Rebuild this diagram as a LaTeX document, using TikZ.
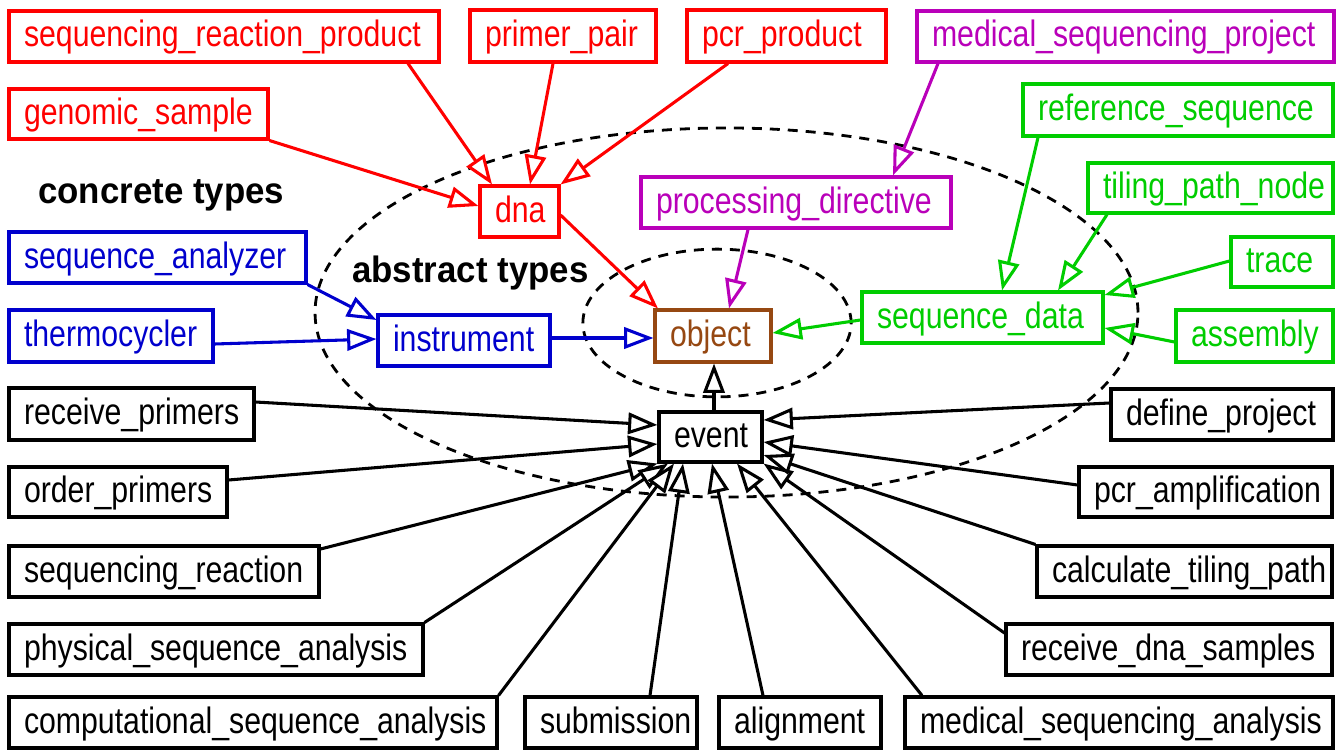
\documentclass[tikz,border=0pt]{standalone}
\usepackage{fontspec}
\setmainfont{Liberation Sans}[FakeStretch=0.825]
\newfontfamily\labfont{Liberation Sans}[FakeStretch=0.95]
\usetikzlibrary{arrows.meta}
\definecolor{cred}{RGB}{255,0,0}
\definecolor{cgreen}{RGB}{0,205,0}
\definecolor{cblue}{RGB}{0,0,205}
\definecolor{cmag}{RGB}{185,0,185}
\definecolor{cbrown}{RGB}{150,72,18}
\tikzset{
  box/.style={draw, line width=2.3pt, fill=white, inner xsep=11.25pt, inner ysep=0pt,
    align=left, text height=21.75pt, text depth=6pt,
    font=\fontsize{27.5pt}{30pt}\selectfont},
  conn/.style={line width=2.3pt, -{Triangle[length=22pt,width=16pt,fill=white]}},
  region/.style={draw=black, line width=2.1pt, dash pattern=on 7.5pt off 6pt},
  lab/.style={font=\labfont\bfseries\fontsize{27.5pt}{30pt}\selectfont, anchor=base west, inner sep=0pt}
}
\newcommand\bx[7]{\node[box,draw=#6,text=#6,text width={(#4-#2-30)*0.75pt},minimum height={(#5-#3)*0.75pt}] (#1) at ({(#2+#4)/2},{(#3+#5)/2}) {#7};}
\begin{document}
\begin{tikzpicture}[x=0.75pt,y=-0.75pt]
\useasboundingbox (0,0) rectangle (1337,749);
% regions
\draw[region] (726.5,312.5) ellipse [x radius=308.6pt, y radius=138.4pt];
\draw[region] (717,323) ellipse [x radius=100.6pt, y radius=55.4pt];
\node[lab] (ct) at (38,203) {concrete types};
\node[lab] (at) at (352,282) {abstract types};
% nodes
\bx{srp}{9}{11}{439}{62}{cred}{sequencing\_reaction\_product}
\bx{pp}{470}{10}{656}{62}{cred}{primer\_pair}
\bx{pcrp}{687}{10}{886}{62}{cred}{pcr\_product}
\bx{msp}{917}{11}{1334}{62}{cmag}{medical\_sequencing\_project}
\bx{gs}{9}{89}{268}{139}{cred}{genomic\_sample}
\bx{rs}{1023}{84}{1333}{136}{cgreen}{reference\_sequence}
\bx{tpn}{1088}{163}{1333}{213}{cgreen}{tiling\_path\_node}
\bx{dna}{480}{186}{559}{237}{cred}{dna}
\bx{pd}{641}{177}{951}{228}{cmag}{processing\_directive}
\bx{sa}{9}{232}{306}{283}{cblue}{sequence\_analyzer}
\bx{tr}{1231}{237}{1333}{287}{cgreen}{trace}
\bx{inst}{378}{315}{550}{366}{cblue}{instrument}
\bx{obj}{655}{310}{771}{362}{cbrown}{object}
\bx{sd}{862}{292}{1103}{343}{cgreen}{sequence\_data}
\bx{tc}{9}{310}{213}{362}{cblue}{thermocycler}
\bx{asm}{1176}{310}{1333}{362}{cgreen}{assembly}
\bx{rp}{9}{388}{254}{440}{black}{receive\_primers}
\bx{dp}{1111}{389}{1333}{440}{black}{define\_project}
\bx{ev}{659}{412}{762}{462}{black}{event}
\bx{op}{9}{467}{227}{517}{black}{order\_primers}
\bx{pcra}{1079}{467}{1332}{517}{black}{pcr\_amplification}
\bx{sr}{9}{546}{319}{597}{black}{sequencing\_reaction}
\bx{ctp}{1037}{546}{1332}{597}{black}{calculate\_tiling\_path}
\bx{psa}{9}{624}{423}{675}{black}{physical\_sequence\_analysis}
\bx{rds}{1006}{624}{1332}{675}{black}{receive\_dna\_samples}
\bx{csa}{9}{697}{497}{748}{black}{computational\_sequence\_analysis}
\bx{sub}{525}{697}{697}{748}{black}{submission}
\bx{aln}{719}{697}{881}{748}{black}{alignment}
\bx{msa}{905}{697}{1333}{748}{black}{medical\_sequencing\_analysis}
% red edges
\begin{scope}[cred]
\draw[conn] (srp.south -| 408,0) -- (dna.north -| 492,0);
\draw[conn] (pp.south -| 553,0) -- (dna.north -| 530,0);
\draw[conn] (pcrp.south -| 728,0) -- (dna.north east);
\draw[conn] (gs.south east) -- (dna.west |- 0,206);
\draw[conn] (dna.east |- 0,215) -- (obj.north -| 658,0);
\end{scope}
\begin{scope}[cmag]
\draw[conn] (msp.south -| 938,0) -- (pd.north -| 893,0);
\draw[conn] (pd.south -| 748,0) -- (obj.north -| 729,0);
\end{scope}
\begin{scope}[cgreen]
\draw[conn] (rs.south -| 1038,0) -- (sd.north -| 1002,0);
\draw[conn] (tpn.south -| 1107,0) -- (sd.north -| 1058,0);
\draw[conn] (tr.west |- 0,261) -- (sd.east |- 0,295);
\draw[conn] (asm.west |- 0,342) -- (sd.east |- 0,328);
\draw[conn] (sd.west |- 0,320) -- (obj.east |- 0,333);
\end{scope}
\begin{scope}[cblue]
\draw[conn] (sa.south east) -- (inst.west |- 0,320);
\draw[conn] (tc.east |- 0,344) -- (inst.west |- 0,339);
\draw[conn] (inst.east |- 0,338) -- (obj.west |- 0,338);
\end{scope}
\begin{scope}[black]
\draw[conn] (ev.north -| 714,0) -- (obj.south -| 714,0);
\draw[conn] (rp.east |- 0,402) -- (ev.west |- 0,425);
\draw[conn] (op.east |- 0,480) -- (ev.west |- 0,444);
\draw[conn] (sr.east |- 0,549) -- (ev.south west);
\draw[conn] (psa.north east) -- (ev.south -| 668,0);
\draw[conn] (csa.north east) -- (ev.south -| 674,0);
\draw[conn] (sub.north -| 650,0) -- (ev.south -| 683,0);
\draw[conn] (aln.north -| 763,0) -- (ev.south -| 712,0);
\draw[conn] (msa.north -| 922,0) -- (ev.south -| 737,0);
\draw[conn] (rds.west |- 0,633) -- (ev.south east);
\draw[conn] (ctp.north west) -- (ev.east |- 0,455);
\draw[conn] (pcra.west |- 0,485) -- (ev.east |- 0,442);
\draw[conn] (dp.west |- 0,403) -- (ev.east |- 0,420);
\end{scope}
\end{tikzpicture}
\end{document}
